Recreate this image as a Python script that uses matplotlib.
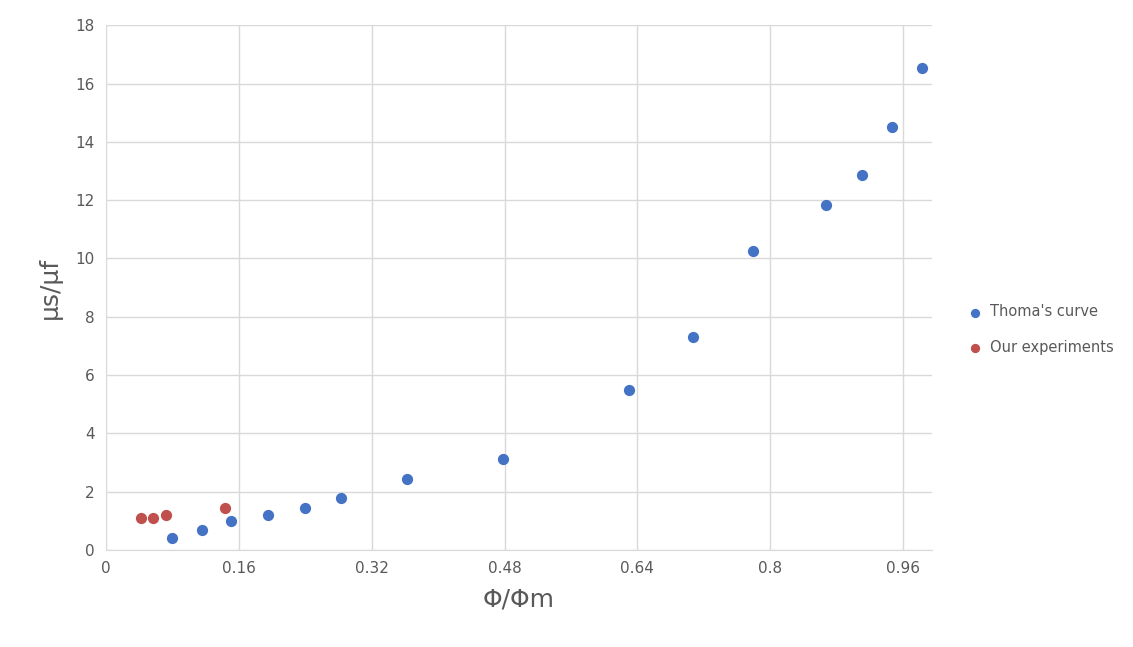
import matplotlib
matplotlib.use("Agg")
import matplotlib.pyplot as plt

thoma_x = [0.0795, 0.1157, 0.1506, 0.1952, 0.2398, 0.2831, 0.3627, 0.4783, 0.6301, 0.7072, 0.7795, 0.8675, 0.9108, 0.9470, 0.9831]
thoma_y = [0.41, 0.69, 0.99, 1.20, 1.44, 1.78, 2.43, 3.12, 5.49, 7.30, 10.25, 11.83, 12.86, 14.50, 16.52]
ours_x = [0.042, 0.057, 0.072, 0.143]
ours_y = [1.10, 1.10, 1.20, 1.44]
xticks = [0, 0.16, 0.32, 0.48, 0.64, 0.8, 0.96]
xtick_labels = ["0", "0.16", "0.32", "0.48", "0.64", "0.8", "0.96"]
yticks = list(range(0, 19, 2))

fig = plt.figure(figsize=(11.33, 6.47), dpi=100)
ax = fig.add_axes([0.0936, 0.150, 0.729, 0.811])
ax.scatter(thoma_x, thoma_y, s=50, color="#4472C4", label="Thoma's curve", zorder=3)
ax.scatter(ours_x, ours_y, s=50, color="#C0504D", label="Our experiments", zorder=3)
ax.set_xlim(0, 0.995)
ax.set_ylim(0, 18)
ax.set_xticks(xticks)
ax.set_xticklabels(xtick_labels)
ax.set_yticks(yticks)
ax.grid(True, color="#D9D9D9", linewidth=1)
ax.set_axisbelow(True)
for s in ["top", "right", "left"]:
    ax.spines[s].set_visible(False)
ax.spines["bottom"].set_color("#D9D9D9")
ax.tick_params(length=0, labelsize=11, colors="#595959", pad=8)
ax.set_xlabel("Φ/Φm", fontsize=18, color="#595959", labelpad=8)
ax.set_ylabel("μs/μf", fontsize=18, color="#595959", labelpad=10)
ax.legend(loc="center left", bbox_to_anchor=(1.035, 0.42), frameon=False,
          fontsize=10.5, handletextpad=0.0, labelspacing=1.4, markerscale=0.8,
          labelcolor="#595959", borderaxespad=0, borderpad=0)
fig.savefig("out.png", dpi=100)
